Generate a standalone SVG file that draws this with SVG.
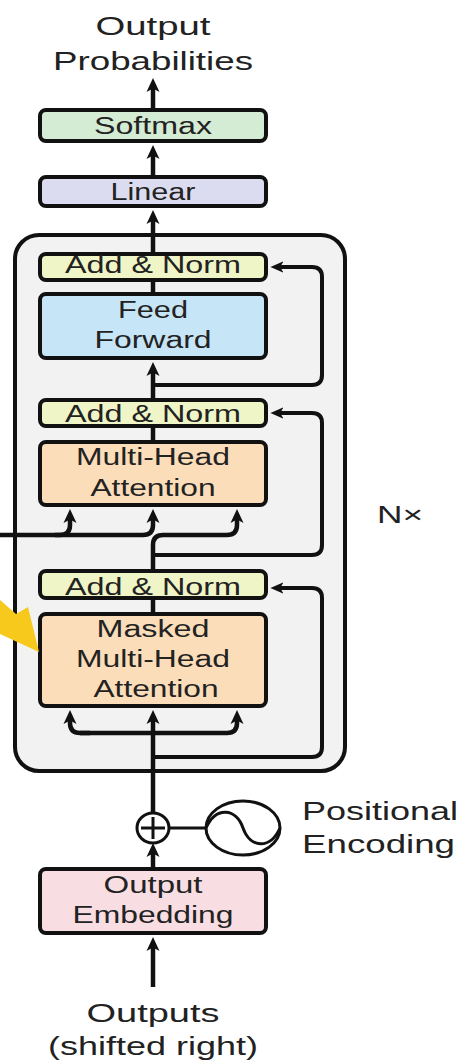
<svg xmlns="http://www.w3.org/2000/svg" width="465" height="1063" viewBox="0 0 465 1063">
<style>
.bx{stroke:#111;stroke-width:4}
.t{font-family:"Liberation Sans",Arial,sans-serif;fill:#222;text-anchor:middle}
.big{font-size:26px}
.mid{font-size:23px}
.ln{fill:none;stroke:#111;stroke-width:4.5;stroke-linecap:butt;stroke-linejoin:round}
.rs{fill:none;stroke:#111;stroke-width:4;stroke-linejoin:round}
.th{fill:none;stroke:#111;stroke-width:3}
</style>
<defs>
<marker id="ah" viewBox="0 0 14 14" refX="8" refY="7" markerWidth="14" markerHeight="14" markerUnits="userSpaceOnUse" orient="auto">
<path d="M0,0.5 L14,7 L0,13.5 L3.5,7 z" fill="#111"/>
</marker>
<marker id="as" viewBox="0 0 14 14" refX="8" refY="7" markerWidth="13" markerHeight="13" markerUnits="userSpaceOnUse" orient="auto">
<path d="M0,1 L14,7 L0,13 L3.5,7 z" fill="#111"/>
</marker>
</defs>
<rect width="465" height="1063" fill="#fff"/>

<g id="labels">
<text class="t big" x="153" y="35" textLength="115" lengthAdjust="spacingAndGlyphs">Output</text>
<text class="t big" x="153" y="70" textLength="200" lengthAdjust="spacingAndGlyphs">Probabilities</text>
<text class="t big" x="153" y="1022" textLength="133" lengthAdjust="spacingAndGlyphs">Outputs</text>
<text class="t big" x="153" y="1055" textLength="210" lengthAdjust="spacingAndGlyphs">(shifted right)</text>
<text class="t big" x="302" y="820" style="text-anchor:start" textLength="156" lengthAdjust="spacingAndGlyphs">Positional</text>
<text class="t big" x="302" y="853" style="text-anchor:start" textLength="153" lengthAdjust="spacingAndGlyphs">Encoding</text>
</g>

<g id="container">
<rect x="15" y="235" width="330" height="536" rx="24" fill="#f2f2f2" stroke="#111" stroke-width="4"/>
<text class="t mid" x="377" y="523" style="text-anchor:start" textLength="46" lengthAdjust="spacingAndGlyphs">N×</text>
</g>

<g id="softmax">
<rect class="bx" x="40" y="110" width="226" height="31" rx="6" fill="#d4ebd4"/>
<text class="t mid" x="153" y="134" textLength="118" lengthAdjust="spacingAndGlyphs">Softmax</text>
</g>
<g id="linear">
<rect class="bx" x="40" y="177" width="226" height="29" rx="6" fill="#dcdcf0"/>
<text class="t mid" x="153" y="200" textLength="85" lengthAdjust="spacingAndGlyphs">Linear</text>
</g>
<g id="addnorm1">
<rect class="bx" x="40" y="254" width="226" height="26" rx="6" fill="#eff5c6"/>
<text class="t mid" x="153" y="273" textLength="176" lengthAdjust="spacingAndGlyphs">Add &amp; Norm</text>
</g>
<g id="feedforward">
<rect class="bx" x="40" y="294" width="226" height="64" rx="6" fill="#c6e5f6"/>
<text class="t mid" x="153" y="318" textLength="70" lengthAdjust="spacingAndGlyphs">Feed</text>
<text class="t mid" x="153" y="348" textLength="117" lengthAdjust="spacingAndGlyphs">Forward</text>
</g>
<g id="addnorm2">
<rect class="bx" x="40" y="400" width="226" height="26" rx="6" fill="#eff5c6"/>
<text class="t mid" x="153" y="422" textLength="176" lengthAdjust="spacingAndGlyphs">Add &amp; Norm</text>
</g>
<g id="mha">
<rect class="bx" x="40" y="442" width="226" height="63" rx="6" fill="#fbddb9"/>
<text class="t mid" x="153" y="465" textLength="154" lengthAdjust="spacingAndGlyphs">Multi-Head</text>
<text class="t mid" x="153" y="496" textLength="125" lengthAdjust="spacingAndGlyphs">Attention</text>
</g>
<g id="addnorm3">
<rect class="bx" x="40" y="571" width="226" height="27" rx="6" fill="#eff5c6"/>
<text class="t mid" x="153" y="595" textLength="176" lengthAdjust="spacingAndGlyphs">Add &amp; Norm</text>
</g>
<g id="masked-mha">
<rect class="bx" x="40" y="614" width="226" height="92" rx="6" fill="#fbddb9"/>
<text class="t mid" x="153" y="637" textLength="113" lengthAdjust="spacingAndGlyphs">Masked</text>
<text class="t mid" x="153" y="667" textLength="154" lengthAdjust="spacingAndGlyphs">Multi-Head</text>
<text class="t mid" x="156" y="697" textLength="125" lengthAdjust="spacingAndGlyphs">Attention</text>
</g>
<g id="output-embedding">
<rect class="bx" x="40" y="869" width="226" height="64" rx="6" fill="#f8dde2"/>
<text class="t mid" x="153" y="893" textLength="99" lengthAdjust="spacingAndGlyphs">Output</text>
<text class="t mid" x="153" y="923" textLength="161" lengthAdjust="spacingAndGlyphs">Embedding</text>
</g>
<g id="add-circle">
<ellipse cx="153" cy="828" rx="16" ry="15" fill="#fff" class="th"/>
<path class="th" d="M141,828 H165 M153,817 V839"/>
</g>
<g id="positional-encoding">
<ellipse cx="243" cy="828" rx="37" ry="27" fill="#fff" class="th"/>
<path class="th" d="M206,828 C216,806 236,808 243,828 C250,848 270,850 280,828"/>
</g>

<g id="connectors">
<path class="ln" d="M153,108 V84" marker-end="url(#ah)"/>
<path class="ln" d="M153,175 V151" marker-end="url(#ah)"/>
<path class="ln" d="M153,252 V216" marker-end="url(#ah)"/>
<path class="ln" d="M153,292 V282"/>
<path class="ln" d="M153,398 V368" marker-end="url(#ah)"/>
<path class="rs" d="M153,385 H312 Q322,385 322,375 V277 Q322,267 312,267 H276" marker-end="url(#as)"/>
<path class="ln" d="M153,440 V428"/>
<path class="rs" d="M153,555 H312 Q322,555 322,545 V423 Q322,413 312,413 H276" marker-end="url(#as)"/>
<path class="ln" d="M153,569 V545 Q153,535 163,535 H227 Q237,535 237,525 V515" marker-end="url(#ah)"/>
<path class="ln" d="M0,535 H60 Q70,535 70,525 V515" marker-end="url(#ah)"/>
<path class="ln" d="M55,535 H143 Q153,535 153,525 V515" marker-end="url(#ah)"/>
<path class="ln" d="M153,612 V600"/>
<path class="rs" d="M153,757 H312 Q322,757 322,747 V598 Q322,588 312,588 H276" marker-end="url(#as)"/>
<path class="ln" d="M153,813 V716" marker-end="url(#ah)"/>
<path class="ln" d="M80,733 H227 Q237,733 237,723 V716" marker-end="url(#ah)"/>
<path class="ln" d="M90,733 H80 Q70,733 70,723 V716" marker-end="url(#ah)"/>
<path class="ln" d="M153,867 V849" marker-end="url(#ah)"/>
<path class="th" d="M169,828 H206"/>
<path class="ln" d="M153,987 V943" marker-end="url(#ah)"/>
</g>

<g id="highlight-arrow">
<polygon points="0,600 16,614 28,607 39,652 0,634" fill="#f6c91c"/>
</g>
</svg>
